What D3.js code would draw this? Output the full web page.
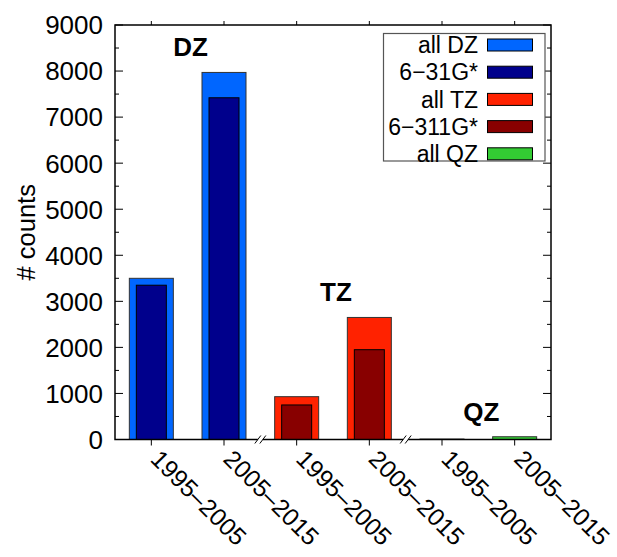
<!DOCTYPE html>
<html>
<head>
<meta charset="utf-8">
<script src="https://cdn.jsdelivr.net/npm/d3@7"></script>
<style>
  body { margin: 0; background: #fff; }
  text { font-family: "Liberation Sans", Arial, Helvetica, sans-serif; }
</style>
</head>
<body>
<svg width="617" height="557"></svg>
<script>
// values
const periods = ["1995–2005", "2005–2015", "1995–2005", "2005–2015", "1995–2005", "2005–2015"];
const groupOf = ["DZ", "DZ", "TZ", "TZ", "QZ", "QZ"];
const allCounts = [3500, 7970, 930, 2650, 10, 60];
const basisCounts = [3350, 7420, 750, 1950, null, null];
const groupNames = ["DZ", "TZ", "QZ"];
const yTicks = [0, 1000, 2000, 3000, 4000, 5000, 6000, 7000, 8000, 9000];

const allColor = { DZ: "#0066ff", TZ: "#ff2200", QZ: "#33cc33" };
const basisColor = { DZ: "#00008c", TZ: "#880000" };

const legendLabels = ["all DZ", "6−31G*", "all TZ", "6−311G*", "all QZ"];
const legendColors = ["#0066ff", "#00008c", "#ff2200", "#880000", "#33cc33"];

const svg = d3.select("svg");
const margin = { top: 25, right: 66, bottom: 117.5, left: 115 };
const W = 617, H = 557;

const x = d3.scaleBand()
  .domain(d3.range(periods.length))
  .range([margin.left, W - margin.right])
  .padding(0);
const cx = i => x(i) + x.bandwidth() / 2;

const y = d3.scaleLinear()
  .domain([0, 9000])
  .range([H - margin.bottom, margin.top]);

const outerW = 44, innerW = 30;

// bars
const bars = svg.append("g");
bars.selectAll(".allBar")
  .data(allCounts)
  .join("rect")
  .attr("class", "allBar")
  .attr("x", (d, i) => cx(i) - outerW / 2)
  .attr("y", d => y(d))
  .attr("width", outerW)
  .attr("height", d => y(0) - y(d))
  .attr("fill", (d, i) => allColor[groupOf[i]])
  .attr("stroke", "#333")
  .attr("stroke-width", 1);

bars.selectAll(".basisBar")
  .data(basisCounts.map((v, i) => ({ v, i })).filter(d => d.v != null))
  .join("rect")
  .attr("class", "basisBar")
  .attr("x", d => cx(d.i) - innerW / 2)
  .attr("y", d => y(d.v))
  .attr("width", innerW)
  .attr("height", d => y(0) - y(d.v))
  .attr("fill", d => basisColor[groupOf[d.i]])
  .attr("stroke", "#000")
  .attr("stroke-width", 1);

// group labels
groupNames.forEach((g, k) => {
  const idx = groupOf.map((v, i) => v === g ? i : -1).filter(i => i >= 0);
  const mid = (cx(idx[0]) + cx(idx[idx.length - 1])) / 2 + 3;
  const top = d3.max(idx, i => allCounts[i]);
  svg.append("text")
    .attr("x", mid)
    .attr("y", Math.min(y(top) - 16, y(0) - 13))
    .attr("text-anchor", "middle")
    .attr("font-size", "26px")
    .attr("font-weight", "bold")
    .text(g);
});

// frame
const x0 = margin.left, x1 = W - margin.right, y0 = y(0), y1 = y(9000);
svg.append("rect")
  .attr("x", x0).attr("y", y1)
  .attr("width", x1 - x0).attr("height", y0 - y1)
  .attr("fill", "none")
  .attr("stroke", "#000")
  .attr("stroke-width", 1.5);

// y ticks (inward on both sides), minor every 500
const ticks = svg.append("g").attr("stroke", "#000").attr("stroke-width", 1);
d3.range(0, 9001, 500).forEach(v => {
  const len = v % 1000 === 0 ? 8 : 4;
  ticks.append("line").attr("x1", x0).attr("x2", x0 + len).attr("y1", y(v)).attr("y2", y(v));
  ticks.append("line").attr("x1", x1).attr("x2", x1 - len).attr("y1", y(v)).attr("y2", y(v));
});
// x ticks (outward top and bottom)
periods.forEach((p, i) => {
  ticks.append("line").attr("x1", cx(i)).attr("x2", cx(i)).attr("y1", y0).attr("y2", y0 + 6);
  ticks.append("line").attr("x1", cx(i)).attr("x2", cx(i)).attr("y1", y1).attr("y2", y1 - 4);
});

svg.selectAll(".yLabel")
  .data(yTicks)
  .join("text")
  .attr("class", "yLabel")
  .attr("x", x0 - 12)
  .attr("y", d => y(d))
  .attr("dy", "0.36em")
  .attr("text-anchor", "end")
  .attr("font-size", "26px")
  .text(d => d);

svg.selectAll(".xLabel")
  .data(periods)
  .join("text")
  .attr("class", "xLabel")
  .attr("transform", (d, i) => `translate(${cx(i) - 2},${y0 + 21}) rotate(45)`)
  .attr("text-anchor", "start")
  .attr("font-size", "24.5px")
  .text(d => d);

svg.append("text")
  .attr("transform", `translate(35,${(y0 + y1) / 2}) rotate(-90)`)
  .attr("text-anchor", "middle")
  .attr("font-size", "25.5px")
  .text("# counts");

// axis breaks between groups
[1, 3].forEach(i => {
  const bx = (cx(i) + cx(i + 1)) / 2;
  svg.append("rect")
    .attr("x", bx - 2.5).attr("y", y0 - 2)
    .attr("width", 5).attr("height", 4)
    .attr("fill", "#fff");
  [-2.5, 2.5].forEach(o => {
    svg.append("line")
      .attr("x1", bx + o - 3).attr("y1", y0 + 4)
      .attr("x2", bx + o + 3).attr("y2", y0 - 4)
      .attr("stroke", "#000").attr("stroke-width", 1);
  });
});

// legend
const lg = svg.append("g");
lg.append("rect")
  .attr("x", 383.5).attr("y", 33.5)
  .attr("width", 161.5).attr("height", 127.5)
  .attr("fill", "#fff")
  .attr("stroke", "#555")
  .attr("stroke-width", 1.2);
legendLabels.forEach((l, k) => {
  const ly = 45 + k * 27.2;
  lg.append("text")
    .attr("x", 478).attr("y", ly)
    .attr("dy", "0.36em")
    .attr("text-anchor", "end")
    .attr("font-size", "23px")
    .text(l);
  lg.append("rect")
    .attr("x", 487.5).attr("y", ly - 6)
    .attr("width", 45).attr("height", 12)
    .attr("fill", legendColors[k])
    .attr("stroke", "#000")
    .attr("stroke-width", 1);
});
</script>
</body>
</html>
